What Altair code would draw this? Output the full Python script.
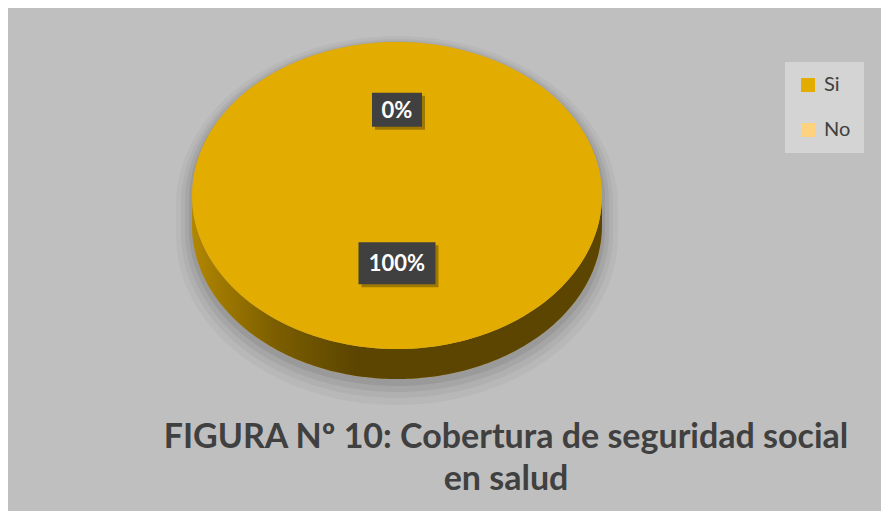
import altair as alt
import pandas as pd

# ---- data ----
categories = ["Si", "No"]
values = [100, 0]
colors = ["#E3AC00", "#FFD280"]
title_text = "FIGURA Nº 10: Cobertura de seguridad social\nen salud"

# ---- layout constants (pixels inside the chart) ----
W, H = 873, 503
CX, CY = 389, 187.5
RX, RY = 205, 153.5
DEPTH = 30
N = 180

slices = pd.DataFrame({"idx": list(range(len(categories))),
                       "category": categories, "value": values})

xs = alt.Scale(domain=[0, W], nice=False, zero=False)
ys = alt.Scale(domain=[0, H], nice=False, zero=False, reverse=True)


def X(f):
    return alt.X(f, type="quantitative", scale=xs, axis=None)


def Y(f):
    return alt.Y(f, type="quantitative", scale=ys, axis=None)


def Y2(f):
    return alt.Y2(f)


color_scale = alt.Scale(domain=categories, range=colors)
legend = alt.Legend(orient="none", legendX=777, legendY=54,
                    title=None, symbolType="square",
                    symbolSize=196, symbolStrokeWidth=0,
                    labelFont="Lato", labelFontSize=20,
                    labelColor="#404040", labelOffset=6,
                    fillColor="#d4d4d4", padding=13,
                    rowPadding=25)


def with_angles(ch):
    return (ch.transform_joinaggregate(total="sum(value)")
              .transform_window(cum="sum(value)", sort=[alt.SortField("idx")], frame=[None, 0])
              .transform_calculate(a0="2*PI*(datum.cum - datum.value)/datum.total",
                                   a1="2*PI*datum.cum/datum.total",
                                   pct="datum.value/datum.total"))


# ---- soft shadow under the pie ----
shadow_layers = []
for e, dy, op in [(16, 10, 0.035), (11, 8, 0.045), (7, 6, 0.055), (3, 4, 0.07)]:
    s = (alt.Chart(alt.sequence(0, N + 1, as_="k"))
         .transform_calculate(u=f"-cos(PI*datum.k/{N})")
         .transform_calculate(sx=f"{CX} + {RX + e}*datum.u",
                              sy=f"{CY + dy} - {RY + e}*sqrt(max(0, 1 - datum.u*datum.u))",
                              sy2=f"{CY + dy + DEPTH} + {RY + e}*sqrt(max(0, 1 - datum.u*datum.u))")
         .mark_area(color="black", opacity=op)
         .encode(x=X("sx"), y=Y("sy"), y2=Y2("sy2")))
    shadow_layers.append(s)

# ---- pie side (front half, per slice) ----
side = (with_angles(alt.Chart(slices))
        .transform_calculate(f0="max(datum.a0, PI/2)", f1="min(datum.a1, 3*PI/2)")
        .transform_filter("datum.f1 > datum.f0")
        .transform_calculate(ks=f"sequence(0, {2 * N + 2})")
        .transform_flatten(["ks"], as_=["k"])
        .transform_calculate(j=f"datum.k <= {N} ? datum.k : {2 * N + 1} - datum.k",
                             low=f"datum.k > {N} ? 1 : 0")
        .transform_calculate(ang=f"datum.f0 + (datum.f1 - datum.f0)*datum.j/{N}")
        .transform_calculate(px=f"{CX} + {RX}*sin(datum.ang)",
                             py=f"{CY} - {RY}*cos(datum.ang) + datum.low*{DEPTH}")
        .mark_line(strokeWidth=0, strokeOpacity=0)
        .encode(x=X("px"), y=Y("py"), order=alt.Order("k:Q"),
                fill=alt.Fill("category:N", scale=color_scale, legend=legend),
                detail="category:N"))

# ---- shading of the side ----
shade = (alt.Chart(alt.sequence(0, N + 1, as_="k"))
         .transform_calculate(u=f"-cos(PI*datum.k/{N})")
         .transform_calculate(sx=f"{CX} + {RX}*datum.u",
                              sy=f"{CY} + {RY}*sqrt(max(0, 1 - datum.u*datum.u))",
                              sy2=f"{CY + DEPTH} + {RY}*sqrt(max(0, 1 - datum.u*datum.u))")
         .mark_area(color=alt.Gradient(
             gradient="linear", x1=0, x2=1, y1=0, y2=0,
             stops=[alt.GradientStop(color="rgba(0,0,0,0.22)", offset=0),
                    alt.GradientStop(color="rgba(0,0,0,0.45)", offset=0.2),
                    alt.GradientStop(color="rgba(0,0,0,0.6)", offset=0.4),
                    alt.GradientStop(color="rgba(0,0,0,0.6)", offset=1)]))
         .encode(x=X("sx"), y=Y("sy"), y2=Y2("sy2")))

# ---- pie top face ----
top = (with_angles(alt.Chart(slices))
       .transform_calculate(ks=f"sequence(-1, {N + 2})")
       .transform_flatten(["ks"], as_=["k"])
       .transform_calculate(t=f"clamp(datum.k, 0, {N})/{N}",
                            rad=f"(datum.k < 0 || datum.k > {N}) ? 0 : 1")
       .transform_calculate(ang="datum.a0 + (datum.a1 - datum.a0)*datum.t")
       .transform_calculate(px=f"{CX} + datum.rad*{RX}*sin(datum.ang)",
                            py=f"{CY} - datum.rad*{RY}*cos(datum.ang)")
       .mark_line(strokeWidth=0, strokeOpacity=0)
       .encode(x=X("px"), y=Y("py"), order=alt.Order("k:Q"),
               fill=alt.Fill("category:N", scale=color_scale, legend=legend),
               detail="category:N"))

# ---- data labels ----
lab_base = (with_angles(alt.Chart(slices))
            .transform_calculate(am="(datum.a0 + datum.a1)/2",
                                 lab="format(datum.pct, '.0%')")
            .transform_calculate(lx=f"{CX} + 0.5*{RX}*sin(datum.am)",
                                 ly=f"{CY} - 9 - 0.5*{RY}*cos(datum.am)",
                                 bw="13.5*length(datum.lab) + 23",
                                 bh="4*length(datum.lab) + 26")
            .transform_calculate(bx1="datum.lx - datum.bw/2", bx2="datum.lx + datum.bw/2",
                                 by1="datum.ly - datum.bh/2", by2="datum.ly + datum.bh/2",
                                 sx1="datum.lx - datum.bw/2 + 3", sx2="datum.lx + datum.bw/2 + 3",
                                 sy1="datum.ly - datum.bh/2 + 3", sy2="datum.ly + datum.bh/2 + 3"))

lab_shadow = lab_base.mark_rect(color="black", opacity=0.3).encode(
    x=X("sx1"), x2=alt.X2("sx2"), y=Y("sy1"), y2=Y2("sy2"))
lab_box = lab_base.mark_rect(color="#404040").encode(
    x=X("bx1"), x2=alt.X2("bx2"), y=Y("by1"), y2=Y2("by2"))
lab_text = lab_base.mark_text(font="Lato", fontWeight="bold", fontSize=22, color="white",
                              align="center", baseline="middle", dy=1).encode(
    x=X("lx"), y=Y("ly"), text=alt.Text("lab:N"))

# ---- title ----
title = (alt.Chart(pd.DataFrame({"t": [title_text]}))
         .mark_text(font="Lato", fontWeight="bold", fontSize=34, color="#404040",
                    align="center", baseline="alphabetic", lineBreak="\n", lineHeight=42)
         .encode(text="t:N", x=alt.value(498), y=alt.value(440)))

chart = (alt.layer(*shadow_layers, side, shade, top, lab_shadow, lab_box, lab_text, title)
         .properties(width=W, height=H, background="#bfbfbf", padding=0,
                     autosize=alt.AutoSizeParams(type="none"))
         .configure_view(stroke=None))

chart.save("out.html", embed_options={"renderer": "svg", "actions": False})
